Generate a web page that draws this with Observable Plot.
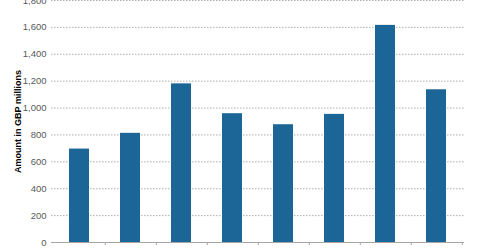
<!DOCTYPE html>
<html>
<head>
<meta charset="utf-8">
<script src="https://cdn.jsdelivr.net/npm/d3@7"></script>
<script src="https://cdn.jsdelivr.net/npm/@observablehq/plot@0.6"></script>
<style>
  html, body { margin: 0; padding: 0; background: #fff; overflow: hidden; }
  #chart svg { display: block; }
</style>
</head>
<body>
<div id="chart"></div>
<script>
const quarters = ["1Q15", "2Q15", "3Q15", "4Q15", "1Q16", "2Q16", "3Q16", "4Q16"];
const amounts = [695, 812, 1180, 958, 876, 953, 1615, 1136];
const yTicks = [0, 200, 400, 600, 800, 1000, 1200, 1400, 1600, 1800];
const yTitle = "Amount in GBP millions";

const data = quarters.map((q, i) => ({quarter: q, amount: amounts[i]}));

const W = 480, ML = 51, MR = 16;
const step = (W - ML - MR) / quarters.length;

const chart = Plot.plot({
  width: W,
  height: 251,
  marginLeft: ML,
  marginRight: MR,
  marginTop: 0,
  marginBottom: 9,
  style: {fontFamily: "Liberation Sans, Arial, sans-serif", background: "#fff", overflow: "visible"},
  x: {domain: quarters, paddingInner: 0.61, paddingOuter: 0.305, axis: null},
  y: {domain: [0, 1800], axis: null},
  marks: [
    Plot.gridY(yTicks.slice(1), {stroke: "#999", strokeOpacity: 1, strokeWidth: 0.8, strokeDasharray: "1.5,1.5"}),
    Plot.barY(data, {x: "quarter", y: "amount", fill: "#1b6597"}),
    Plot.ruleY([0], {stroke: "#a6a6a6", strokeWidth: 1}),
    Plot.axisY({ticks: yTicks, tickFormat: d3.format(","), tickSize: 0, tickPadding: 5, fontSize: 9.5, color: "#595959", label: null}),
    Plot.axisX({tickSize: 3, text: null, dx: step / 2, stroke: "#a6a6a6", label: null}),
    Plot.axisX({tickSize: 0, tickPadding: 8, fontSize: 9.5, color: "#595959", label: null}),
    Plot.text([yTitle], {frameAnchor: "left", rotate: -90, dx: -33, textAnchor: "middle", fontWeight: "bold", fontSize: 9, fill: "#000"})
  ]
});
document.getElementById("chart").appendChild(chart);
</script>
</body>
</html>
